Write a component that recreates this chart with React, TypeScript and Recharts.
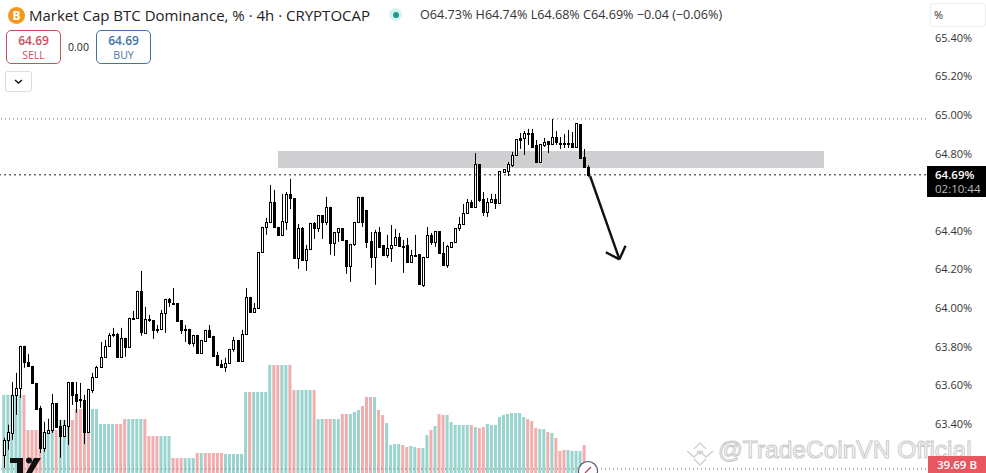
import React from 'react';
import { Bar, Cell, ComposedChart, ReferenceArea, ReferenceLine, XAxis, YAxis } from 'recharts';

const opens = [
  63.239, 63.317, 63.353, 63.55, 63.586, 63.804, 63.721, 63.7, 63.612, 63.483, 63.275, 63.353, 63.369, 63.508, 63.389, 63.338,
  63.389, 63.617, 63.555, 63.529, 63.524, 63.358, 63.576, 63.643, 63.695, 63.747, 63.804, 63.861, 63.866, 63.747, 63.845, 63.799,
  63.949, 63.949, 64.089, 63.871, 63.944, 63.938, 63.892, 63.892, 63.975, 64.047, 64.026, 64.026, 63.938, 63.892, 63.892, 63.819,
  63.861, 63.767, 63.83, 63.887, 63.856, 63.757, 63.71, 63.695, 63.716, 63.788, 63.835, 63.726, 63.866, 64.058, 63.98, 64.001,
  64.291, 64.42, 64.446, 64.55, 64.42, 64.379, 64.446, 64.591, 64.57, 64.26, 64.415, 64.249, 64.306, 64.441, 64.415, 64.482,
  64.446, 64.524, 64.337, 64.394, 64.415, 64.353, 64.218, 64.332, 64.446, 64.576, 64.508, 64.348, 64.265, 64.394, 64.327, 64.275,
  64.311, 64.327, 64.368, 64.322, 64.327, 64.239, 64.275, 64.28, 64.12, 64.265, 64.379, 64.342, 64.399, 64.285, 64.223, 64.317,
  64.342, 64.415, 64.436, 64.493, 64.55, 64.524, 64.746, 64.565, 64.498, 64.55, 64.565, 64.544, 64.705, 64.71, 64.741, 64.793,
  64.881, 64.881, 64.907, 64.907, 64.845, 64.757, 64.845, 64.866, 64.85, 64.886, 64.855, 64.855, 64.855, 64.855, 64.835, 64.954,
  64.783, 64.73,
];
const closes = [
  63.317, 63.358, 63.55, 63.586, 63.804, 63.721, 63.7, 63.612, 63.477, 63.275, 63.358, 63.369, 63.508, 63.384, 63.338, 63.395,
  63.617, 63.55, 63.519, 63.524, 63.358, 63.581, 63.643, 63.695, 63.747, 63.804, 63.861, 63.866, 63.747, 63.845, 63.799, 63.949,
  63.944, 64.089, 63.876, 63.944, 63.938, 63.887, 63.887, 63.975, 64.047, 64.032, 64.021, 63.933, 63.887, 63.887, 63.819, 63.861,
  63.767, 63.835, 63.887, 63.85, 63.752, 63.705, 63.695, 63.716, 63.788, 63.835, 63.726, 63.866, 64.058, 63.98, 64.001, 64.291,
  64.42, 64.446, 64.55, 64.42, 64.379, 64.451, 64.591, 64.57, 64.26, 64.415, 64.249, 64.306, 64.441, 64.415, 64.482, 64.446,
  64.524, 64.337, 64.394, 64.415, 64.353, 64.218, 64.332, 64.446, 64.576, 64.446, 64.342, 64.265, 64.394, 64.317, 64.275, 64.311,
  64.327, 64.368, 64.322, 64.317, 64.239, 64.275, 64.27, 64.125, 64.265, 64.379, 64.342, 64.399, 64.285, 64.223, 64.322, 64.342,
  64.415, 64.436, 64.493, 64.55, 64.524, 64.746, 64.56, 64.498, 64.55, 64.565, 64.544, 64.71, 64.72, 64.746, 64.793, 64.876,
  64.873, 64.907, 64.902, 64.835, 64.757, 64.85, 64.86, 64.85, 64.886, 64.86, 64.85, 64.85, 64.85, 64.835, 64.959, 64.778,
  64.731, 64.69,
];
const highs = [
  63.327, 63.395, 63.617, 63.664, 63.804, 63.804, 63.762, 63.7, 63.612, 63.493, 63.41, 63.426, 63.555, 63.508, 63.42, 63.42,
  63.617, 63.617, 63.617, 63.612, 63.55, 63.581, 63.664, 63.7, 63.824, 63.835, 63.871, 63.897, 63.871, 63.897, 63.845, 63.949,
  63.985, 64.089, 64.192, 64.006, 63.964, 63.938, 63.912, 63.99, 64.047, 64.052, 64.104, 64.026, 63.938, 63.912, 63.892, 63.861,
  63.861, 63.835, 63.887, 63.912, 63.856, 63.773, 63.731, 63.742, 63.788, 63.85, 63.835, 63.887, 64.104, 64.058, 64.026, 64.291,
  64.42, 64.467, 64.638, 64.612, 64.42, 64.591, 64.601, 64.669, 64.57, 64.436, 64.42, 64.327, 64.441, 64.446, 64.482, 64.482,
  64.576, 64.524, 64.394, 64.415, 64.415, 64.353, 64.332, 64.446, 64.576, 64.576, 64.508, 64.394, 64.405, 64.42, 64.327, 64.379,
  64.43, 64.41, 64.389, 64.353, 64.363, 64.301, 64.379, 64.28, 64.265, 64.42, 64.389, 64.399, 64.399, 64.342, 64.327, 64.342,
  64.415, 64.472, 64.539, 64.565, 64.56, 64.803, 64.746, 64.601, 64.57, 64.591, 64.591, 64.71, 64.72, 64.757, 64.809, 64.876,
  64.907, 64.917, 64.928, 64.928, 64.871, 64.85, 64.881, 64.866, 64.98, 64.917, 64.886, 64.902, 64.923, 64.912, 64.959, 64.954,
  64.824, 64.74,
];
const lows = [
  63.172, 63.265, 63.317, 63.446, 63.534, 63.69, 63.7, 63.612, 63.472, 63.249, 63.255, 63.353, 63.353, 63.384, 63.224, 63.338,
  63.291, 63.498, 63.457, 63.483, 63.296, 63.358, 63.56, 63.643, 63.695, 63.747, 63.799, 63.85, 63.747, 63.747, 63.747, 63.799,
  63.944, 63.949, 63.856, 63.871, 63.928, 63.84, 63.871, 63.887, 63.871, 64.006, 64.021, 63.933, 63.866, 63.824, 63.809, 63.799,
  63.767, 63.767, 63.83, 63.85, 63.752, 63.705, 63.695, 63.669, 63.716, 63.773, 63.726, 63.726, 63.866, 63.975, 63.975, 64.001,
  64.291, 64.379, 64.446, 64.42, 64.379, 64.379, 64.405, 64.513, 64.26, 64.203, 64.249, 64.192, 64.306, 64.358, 64.394, 64.358,
  64.43, 64.275, 64.27, 64.342, 64.348, 64.177, 64.135, 64.322, 64.446, 64.42, 64.311, 64.208, 64.12, 64.317, 64.275, 64.26,
  64.239, 64.327, 64.322, 64.182, 64.239, 64.239, 64.27, 64.125, 64.109, 64.265, 64.327, 64.317, 64.285, 64.223, 64.208, 64.317,
  64.342, 64.399, 64.43, 64.487, 64.524, 64.524, 64.55, 64.477, 64.472, 64.55, 64.513, 64.544, 64.705, 64.684, 64.731, 64.793,
  64.824, 64.793, 64.845, 64.835, 64.757, 64.757, 64.835, 64.803, 64.845, 64.845, 64.824, 64.829, 64.829, 64.835, 64.835, 64.778,
  64.731, 64.68,
];
// volume in billions, 1 = teal bar, 0 = pink bar
const volumes = [
  390, 390, 390, 390, 390, 390, 215, 215, 215, 215, 205, 205, 215, 215, 265, 265, 265, 265, 320, 320, 320, 320, 320, 320,
  245, 245, 245, 245, 245, 245, 270, 270, 270, 270, 270, 270, 185, 185, 185, 185, 185, 185, 75, 75, 75, 75, 75, 75,
  100, 100, 100, 100, 100, 100, 100, 95, 95, 95, 95, 95, 405, 405, 405, 405, 405, 405, 540, 540, 540, 540, 540, 540,
  415, 415, 415, 415, 415, 415, 270, 270, 270, 270, 270, 270, 295, 295, 295, 305, 315, 335, 380, 380, 380, 315, 290, 250,
  140, 145, 145, 140, 130, 135, 130, 125, 125, 190, 215, 235, 295, 290, 290, 255, 240, 240, 240, 240, 240, 230, 225, 230,
  245, 240, 240, 280, 290, 295, 300, 300, 300, 280, 270, 260, 225, 220, 220, 205, 200, 175, 110, 115, 115, 110, 110, 110,
  140, 39.69,
];
const volumeUp = [
  1, 1, 1, 1, 1, 0, 0, 0, 0, 0, 1, 1, 1, 0, 1, 1, 1, 0, 0, 0, 0, 0, 1, 1,
  1, 1, 1, 1, 0, 0, 0, 1, 1, 1, 1, 0, 0, 0, 0, 1, 1, 1, 0, 0, 0, 1, 1, 1,
  0, 1, 0, 0, 0, 0, 0, 1, 1, 1, 1, 1, 1, 0, 1, 1, 1, 1, 1, 0, 0, 1, 1, 0,
  0, 1, 1, 1, 1, 0, 1, 1, 0, 0, 1, 1, 0, 0, 1, 1, 1, 0, 0, 0, 1, 0, 0, 1,
  1, 1, 1, 0, 0, 1, 1, 0, 1, 1, 0, 1, 0, 0, 1, 1, 1, 1, 1, 1, 0, 1, 0, 0,
  1, 1, 1, 1, 1, 1, 1, 1, 1, 1, 0, 0, 0, 1, 1, 0, 1, 0, 0, 0, 1, 1, 1, 1,
  0, 0,
];
const priceTicks = [63.4, 63.6, 63.8, 64, 64.2, 64.4, 64.8, 65, 65.2, 65.4];
const lastPrice = 64.69;
const highLine = 64.98;
const volumeFloor = 63.166;
const zone = { x1: 68.16, x2: 203.65, y1: 64.725, y2: 64.813 };
const arrowLine = [{ x: 145.6, y: 64.684 }, { x: 152.9, y: 64.252 }];
const arrowLeft = [{ x: 149.5, y: 64.289 }, { x: 152.9, y: 64.252 }];
const arrowRight = [{ x: 154.4, y: 64.323 }, { x: 152.9, y: 64.252 }];

const rows = opens.map((open, i) => ({
  i,
  open,
  close: closes[i],
  high: highs[i],
  low: lows[i],
  wick: [lows[i], highs[i]],
  volume: volumes[i],
}));

const uiFont = 'Tahoma, "Open Sans", "Noto Sans", sans-serif';

function Candle(props: any) {
  const { x, y, width, height, payload } = props;
  const cx = Math.round(x + width / 2) + 0.5;
  const perUnit = height / (payload.high - payload.low || 1);
  const top = Math.round(y + (payload.high - Math.max(payload.open, payload.close)) * perUnit) + 0.5;
  const bottom = Math.round(y + (payload.high - Math.min(payload.open, payload.close)) * perUnit) + 0.5;
  const up = payload.close >= payload.open;
  return (
    <g>
      <line x1={cx} x2={cx} y1={y} y2={y + height} stroke="#000" strokeWidth={1} />
      <rect
        x={cx - 1}
        width={2}
        y={top}
        height={Math.max(bottom - top, 1)}
        fill={up ? '#fff' : '#000'}
        stroke="#000"
        strokeWidth={1}
      />
    </g>
  );
}

function Box({ left, top, width, height, style, children }: any) {
  return (
    <div style={{ position: 'absolute', left, top, width, height, boxSizing: 'border-box', ...style }}>{children}</div>
  );
}

function TradeButton({ left, color, label }: any) {
  return (
    <Box
      left={left}
      top={30}
      width={55}
      height={34}
      style={{ border: `1px solid ${color}`, borderRadius: 5, color, textAlign: 'center', fontSize: 12, lineHeight: '14px', paddingTop: 3 }}
    >
      <div style={{ fontWeight: 600 }}>64.69</div>
      <div style={{ fontSize: 10.5 }}>{label}</div>
    </Box>
  );
}

export default function App() {
  return (
    <div style={{ position: 'absolute', left: 0, top: 0, width: 986, height: 473, overflow: 'hidden', background: '#fff', fontFamily: uiFont }}>
      <ComposedChart width={986} height={473} data={rows} margin={{ top: 0, right: 0, bottom: 0, left: 0 }}>
        <XAxis xAxisId="vol" dataKey="i" type="number" domain={[-0.82, 228.96]} allowDataOverflow hide />
        <XAxis xAxisId="px" dataKey="i" type="number" domain={[-0.82, 228.96]} allowDataOverflow hide />
        <YAxis yAxisId="vol" domain={[0, 2365]} allowDataOverflow hide />
        <YAxis
          yAxisId="px"
          orientation="right"
          width={60}
          domain={[63.145, 65.596]}
          allowDataOverflow
          ticks={priceTicks}
          interval={0}
          tickFormatter={(v: number) => `${v.toFixed(2)}%`}
          axisLine={false}
          tickLine={false}
          tickMargin={3}
          tick={{ fill: '#333', fontSize: 11, fontFamily: uiFont }}
        />
        <ReferenceArea xAxisId="px" yAxisId="px" x1={zone.x1} x2={zone.x2} y1={zone.y1} y2={zone.y2} fill="#cfcfd2" fillOpacity={1} stroke="none" />
        <Bar xAxisId="vol" yAxisId="vol" dataKey="volume" barSize={3} isAnimationActive={false}>
          {rows.map((row) => (
            <Cell key={row.i} fill={volumeUp[row.i] ? '#9ad4ce' : '#f2aeae'} />
          ))}
        </Bar>
        <ReferenceLine xAxisId="px" yAxisId="px" y={highLine} stroke="#777" strokeDasharray="1 3" />
        <ReferenceLine xAxisId="px" yAxisId="px" y={lastPrice} stroke="#222" strokeDasharray="2 3" />
        <ReferenceLine xAxisId="px" yAxisId="px" y={volumeFloor} stroke="#777" strokeDasharray="1 3" />
        <Bar xAxisId="px" yAxisId="px" dataKey="wick" barSize={3} shape={Candle} isAnimationActive={false} />
        <ReferenceLine xAxisId="px" yAxisId="px" segment={arrowLine} stroke="#111" strokeWidth={2.4} />
        <ReferenceLine xAxisId="px" yAxisId="px" segment={arrowLeft} stroke="#111" strokeWidth={2.4} />
        <ReferenceLine xAxisId="px" yAxisId="px" segment={arrowRight} stroke="#111" strokeWidth={2.4} />
      </ComposedChart>

      {/* header */}
      <Box left={8} top={7} width={17} height={17} style={{ borderRadius: '50%', background: '#f39a1e', color: '#fff', fontSize: 12, fontWeight: 700, textAlign: 'center', lineHeight: '17px' }}>B</Box>
      <Box left={29} top={5} width={360} height={20} style={{ fontSize: 15, lineHeight: '20px', color: '#222', whiteSpace: 'nowrap' }}>
        Market Cap BTC Dominance, % · 4h · CRYPTOCAP
      </Box>
      <Box left={389} top={8} width={13} height={13} style={{ borderRadius: '50%', background: '#d9f2ef' }} />
      <Box left={392.5} top={11.5} width={6} height={6} style={{ borderRadius: '50%', background: '#1b9d8c' }} />
      <Box left={420} top={6} width={320} height={18} style={{ fontSize: 12.6, lineHeight: '18px', color: '#333', whiteSpace: 'nowrap' }}>
        O64.73% H64.74% L64.68% C64.69% −0.04 (−0.06%)
      </Box>
      <TradeButton left={6} color="#c9505a" label="SELL" />
      <TradeButton left={96} color="#3f74a8" label="BUY" />
      <Box left={61} top={39} width={35} height={16} style={{ fontSize: 10.5, lineHeight: '16px', textAlign: 'center', color: '#222' }}>0.00</Box>
      <Box left={5} top={71} width={27} height={21} style={{ border: '1px solid #ddd', borderRadius: 3 }}>
        <svg width={25} height={19}>
          <polyline points="9,8 12.5,11 16,8" fill="none" stroke="#111" strokeWidth={1.4} />
        </svg>
      </Box>

      {/* right scale */}
      <Box left={930} top={3} width={56} height={24} style={{ border: '1px solid #eee', borderRadius: 3, fontSize: 11, lineHeight: '22px', paddingLeft: 3, color: '#333' }}>%</Box>
      <Box left={927} top={166} width={59} height={31} style={{ background: '#000', color: '#fff', fontSize: 11.5, lineHeight: '14px', padding: '2px 0 0 8px', fontWeight: 600 }}>
        <div>64.69%</div>
        <div style={{ color: '#bbb', fontWeight: 400 }}>02:10:44</div>
      </Box>

      {/* bottom overlays */}
      <svg style={{ position: 'absolute', left: 8, top: 455 }} width={36} height={18}>
        <path d="M2 3 H15 V18 H9 V8 H2 Z" fill="#111" />
        <circle cx={21} cy={5.5} r={3} fill="#111" />
        <path d="M26 3 H33 L24 18 H18 Z" fill="#111" />
      </svg>
      <svg style={{ position: 'absolute', left: 577, top: 460 }} width={22} height={13}>
        <circle cx={11} cy={11} r={9.5} fill="#fff" stroke="#5a5070" strokeWidth={1.2} />
        <line x1={8} y1={13} x2={14} y2={7} stroke="#b0455a" strokeWidth={1.2} />
      </svg>
      <svg style={{ position: 'absolute', left: 686, top: 440 }} width={30} height={26}>
        <g fill="none" stroke="#cfcfcf" strokeWidth={1.4}>
          <polyline points="1,11 8,17 14,11 20,17 27,11" />
          <polyline points="8,9 14,3 20,9" />
          <polyline points="8,19 14,25 20,19" />
          <polyline points="11,11 14,14 17,11" />
        </g>
      </svg>
      <Box left={718} top={433} width={262} height={34} style={{ fontSize: 24.5, lineHeight: '34px', whiteSpace: 'nowrap', color: 'rgba(255,255,255,0.6)', WebkitTextStroke: '1px #c9c9c9', fontFamily: '"Liberation Sans"' }}>
        @TradeCoinVN Official
      </Box>
      <Box left={928} top={456} width={58} height={17} style={{ background: '#e8575f', color: '#fff', fontSize: 11.5, fontWeight: 600, lineHeight: '17px', textAlign: 'center' }}>39.69 B</Box>
    </div>
  );
}
